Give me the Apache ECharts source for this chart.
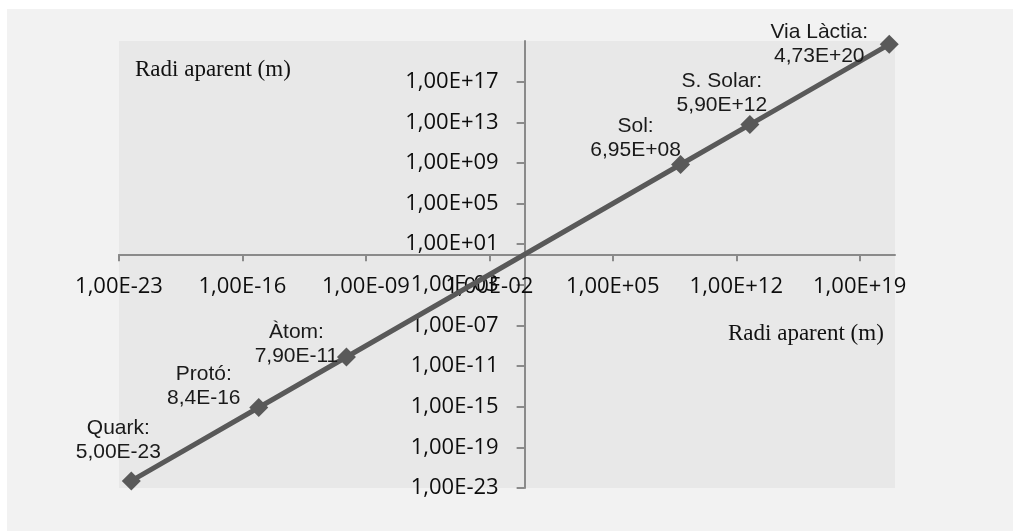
<!DOCTYPE html>
<html>
<head>
<meta charset="utf-8">
<script src="https://cdn.jsdelivr.net/npm/echarts@6/dist/echarts.min.js"></script>
<style>
  html, body { margin: 0; padding: 0; background: #ffffff; }
  #wrap { position: relative; width: 1013px; height: 531px; }
  #chart { position: absolute; left: 7px; top: 9px; width: 1006px; height: 522px; }
</style>
</head>
<body>
<div id="wrap"><div id="chart"></div></div>
<script>
// objects and their apparent radius (m)
const names = ["Quark", "Protó", "Àtom", "Sol", "S. Solar", "Via Làctia"];
const radii = [5.0e-23, 8.4e-16, 7.9e-11, 6.95e8, 5.9e12, 4.73e20];
const valueLabels = ["5,00E-23", "8,4E-16", "7,90E-11", "6,95E+08", "5,90E+12", "4,73E+20"];

// tick exponents (powers of ten)
const xTickExp = [-23, -16, -9, -2, 5, 12, 19];
const yTickExp = [-23, -19, -15, -11, -7, -3, 1, 5, 9, 13, 17];
const expMin = -23, expMax = 21;

const axisTitle = "Radi aparent (m)";

// label placement relative to each marker (styling only)
const labelOffsets = [[-13, -41], [-55, -21], [-50, -13], [-45, -26], [-28, -31], [-70, 0]];

function expLabel(v) {
  const e = Math.round(v);
  const s = e < 0 ? "-" : "+";
  const a = Math.abs(e);
  return "1,00E" + s + (a < 10 ? "0" + a : a);
}

const W = 1006, H = 522;
const G = { left: 112, top: 32, right: 118, bottom: 43 };
const gw = W - G.left - G.right, gh = H - G.top - G.bottom;
// axes cross at 1 (exponent 0): shift them inside the grid
const xAxisShift = -gh * (0 - expMin) / (expMax - expMin);
const yAxisShift = -gw * (0 - expMin) / (expMax - expMin);

const axisColor = "#8a8a8a";
const labelFont = { fontFamily: "Open Sans", fontSize: 22, color: "#0d0d0d" };

const chart = echarts.init(document.getElementById("chart"));
chart.setOption({
  animation: false,
  backgroundColor: "#f2f2f2",
  grid: Object.assign({
    show: true, backgroundColor: "#e8e8e8", borderWidth: 0,
    containLabel: false, outerBoundsMode: "none"
  }, G),
  xAxis: {
    type: "value", min: expMin, max: expMax, position: "bottom",
    offset: xAxisShift,
    axisLine: { onZero: false, lineStyle: { color: axisColor, width: 2 } },
    axisTick: { show: true, customValues: xTickExp, length: 7, lineStyle: { color: axisColor, width: 2 } },
    axisLabel: Object.assign({ customValues: xTickExp, formatter: expLabel, margin: 21 }, labelFont),
    splitLine: { show: false }
  },
  yAxis: {
    type: "value", min: expMin, max: expMax, position: "left",
    offset: yAxisShift,
    axisLine: { onZero: false, lineStyle: { color: axisColor, width: 2 } },
    axisTick: { show: true, customValues: yTickExp, length: 8, lineStyle: { color: axisColor, width: 2 } },
    axisLabel: Object.assign({ customValues: yTickExp, formatter: expLabel, margin: 26 }, labelFont),
    splitLine: { show: false }
  },
  graphic: [
    { type: "text", left: 128, top: 49,
      style: { text: axisTitle, font: '23px "Liberation Serif"', fill: "#111" } },
    { type: "text", left: 721, top: 313,
      style: { text: axisTitle, font: '23px "Liberation Serif"', fill: "#111" } }
  ],
  series: [{
    type: "line",
    symbol: "diamond",
    symbolSize: 19,
    showAllSymbol: true,
    itemStyle: { color: "#595959" },
    lineStyle: { color: "#595959", width: 5 },
    emphasis: { disabled: true },
    data: radii.map((r, i) => ({
      name: names[i],
      value: [Math.log10(r), Math.log10(r)],
      label: {
        show: true,
        position: "inside",
        offset: labelOffsets[i],
        formatter: names[i] + ":\n" + valueLabels[i],
        fontFamily: "Liberation Sans",
        fontSize: 21,
        lineHeight: 24,
        color: "#1a1a1a"
      }
    }))
  }]
});
</script>
</body>
</html>
